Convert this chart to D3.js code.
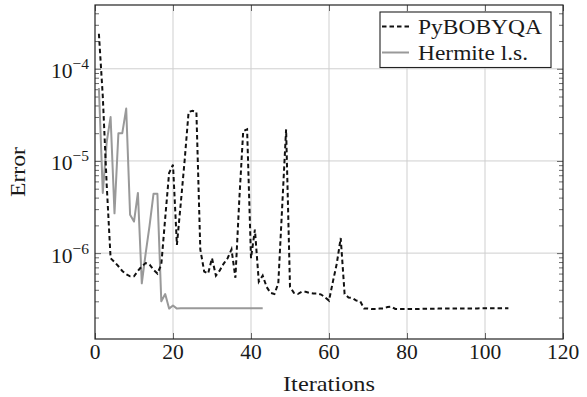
<!DOCTYPE html>
<html>
<head>
<meta charset="utf-8">
<script src="https://cdn.jsdelivr.net/npm/d3@7"></script>
<style>
  body { margin: 0; background: #fff; }
  text { font-family: "Liberation Serif", "Times New Roman", serif; fill: #1a1a1a; }
</style>
</head>
<body>
<div id="chart"></div>
<script>
// error per iteration (iteration = index + 1)
var bobyqaError = [
  2.4e-4, 5.0e-5, 5.5e-6, 8.8e-7, 8.0e-7, 7.2e-7, 6.4e-7, 5.9e-7, 5.6e-7, 5.6e-7,
  6.4e-7, 7.2e-7, 7.8e-7, 7.5e-7, 6.6e-7, 6.0e-7, 7.5e-7, 2.4e-6, 7.4e-6, 9.1e-6,
  1.23e-6, 3.5e-6, 1.03e-5, 3.4e-5, 3.5e-5, 3.4e-5, 1.1e-6, 6.3e-7, 6.0e-7, 8.8e-7,
  5.7e-7, 6.5e-7, 7.7e-7, 8.8e-7, 1.1e-6, 5.4e-7, 3.8e-6, 2.1e-5, 2.2e-5, 8.8e-7,
  1.8e-6, 4.9e-7, 5.7e-7, 4.3e-7, 3.7e-7, 3.6e-7, 4.7e-7, 3.2e-6, 2.2e-5, 4.3e-7,
  3.7e-7, 3.6e-7, 3.8e-7, 3.8e-7, 3.7e-7, 3.65e-7, 3.65e-7, 3.55e-7, 3.3e-7, 3.05e-7,
  4.9e-7, 7.7e-7, 1.46e-6, 3.6e-7, 3.3e-7, 3.25e-7, 3.05e-7, 3.0e-7, 2.5e-7, 2.5e-7,
  2.47e-7, 2.47e-7, 2.5e-7, 2.5e-7, 2.6e-7, 2.63e-7, 2.48e-7, 2.47e-7, 2.47e-7, 2.47e-7,
  2.48e-7, 2.48e-7, 2.48e-7, 2.49e-7, 2.49e-7, 2.49e-7, 2.49e-7, 2.5e-7, 2.5e-7, 2.5e-7,
  2.5e-7, 2.5e-7, 2.5e-7, 2.51e-7, 2.51e-7, 2.51e-7, 2.51e-7, 2.51e-7, 2.52e-7, 2.52e-7,
  2.52e-7, 2.52e-7, 2.52e-7, 2.52e-7, 2.53e-7, 2.53e-7
];
var hermiteError = [
  6.2e-5, 4.5e-6, 1.6e-5, 3.0e-5, 2.7e-6, 2.0e-5, 2.0e-5, 3.7e-5, 2.6e-6, 2.2e-6,
  4.5e-6, 4.7e-7, 1.0e-6, 2.0e-6, 4.4e-6, 4.4e-6, 3.0e-7, 3.6e-7, 2.5e-7, 2.7e-7,
  2.5e-7, 2.52e-7, 2.52e-7, 2.52e-7, 2.52e-7, 2.52e-7, 2.52e-7, 2.52e-7, 2.52e-7, 2.52e-7,
  2.52e-7, 2.52e-7, 2.52e-7, 2.52e-7, 2.52e-7, 2.52e-7, 2.52e-7, 2.52e-7, 2.52e-7, 2.52e-7,
  2.52e-7, 2.52e-7, 2.52e-7
];
var seriesNames = ["PyBOBYQA", "Hermite l.s."];
var xTicks = [0, 20, 40, 60, 80, 100, 120];
var yTicks = [1e-6, 1e-5, 1e-4];
var yTickExp = ["\u22126", "\u22125", "\u22124"];

// set the dimensions and margins of the graph
var margin = { top: 5, right: 24, bottom: 58, left: 95 },
  width = 587 - margin.left - margin.right,
  height = 397 - margin.top - margin.bottom;

var svg = d3.select("#chart")
  .append("svg")
  .attr("width", width + margin.left + margin.right)
  .attr("height", height + margin.top + margin.bottom);
var chart = svg.append("g")
  .attr("transform", "translate(" + margin.left + "," + margin.top + ")");

var x = d3.scaleLinear().domain([0, 120]).range([0, width]);
var y = d3.scaleLog().domain([1.17e-7, 4.92e-4]).range([height, 0]);

// grid
chart.append("g")
  .selectAll("line.gx")
  .data(xTicks.slice(1, -1))
  .enter().append("line")
  .attr("x1", function (d) { return x(d); })
  .attr("x2", function (d) { return x(d); })
  .attr("y1", 0).attr("y2", height)
  .attr("stroke", "#cfcfcf").attr("stroke-width", 1);
chart.append("g")
  .selectAll("line.gy")
  .data(yTicks)
  .enter().append("line")
  .attr("y1", function (d) { return y(d); })
  .attr("y2", function (d) { return y(d); })
  .attr("x1", 0).attr("x2", width)
  .attr("stroke", "#cfcfcf").attr("stroke-width", 1);

// minor ticks on the log axis, inward on both sides
var minor = y.ticks().filter(function (d) {
  return yTicks.indexOf(d) < 0 && d >= y.domain()[0] && d <= y.domain()[1];
});
[["left", 0], ["right", width]].forEach(function (s) {
  var ax = s[0] === "left" ? d3.axisLeft(y) : d3.axisRight(y);
  chart.append("g")
    .attr("transform", "translate(" + s[1] + ",0)")
    .call(ax.tickValues(minor).tickSize(-4).tickFormat(""))
    .call(function (g) { g.select(".domain").remove(); })
    .selectAll("line").attr("stroke", "#444").attr("stroke-width", 0.8);
  chart.append("g")
    .attr("transform", "translate(" + s[1] + ",0)")
    .call((s[0] === "left" ? d3.axisLeft(y) : d3.axisRight(y)).tickValues(yTicks).tickSize(-6).tickFormat(""))
    .call(function (g) { g.select(".domain").remove(); })
    .selectAll("line").attr("stroke", "#444").attr("stroke-width", 0.8);
});
[["bottom", height], ["top", 0]].forEach(function (s) {
  var ax = s[0] === "bottom" ? d3.axisBottom(x) : d3.axisTop(x);
  chart.append("g")
    .attr("transform", "translate(0," + s[1] + ")")
    .call(ax.tickValues(xTicks).tickSize(-6).tickFormat(""))
    .call(function (g) { g.select(".domain").remove(); })
    .selectAll("line").attr("stroke", "#444").attr("stroke-width", 0.8);
});

// tick labels
chart.append("g")
  .selectAll("text")
  .data(xTicks)
  .enter().append("text")
  .attr("x", function (d) { return x(d); })
  .attr("y", height + 20)
  .style("text-anchor", "middle")
  .style("font-size", "21.5px")
  .text(function (d) { return d; });

var yLab = chart.append("g")
  .selectAll("text")
  .data(yTicks)
  .enter().append("text")
  .attr("x", -6)
  .attr("y", function (d) { return y(d) + 9.5; })
  .style("text-anchor", "end")
  .style("font-size", "21.5px");
yLab.append("tspan").text("10");
yLab.append("tspan")
  .attr("dy", -9)
  .style("font-size", "15.5px")
  .text(function (d, i) { return yTickExp[i]; });

// the lines
var line = d3.line()
  .x(function (d, i) { return x(i + 1); })
  .y(function (d) { return y(d); });

chart.append("path")
  .datum(hermiteError)
  .attr("fill", "none")
  .attr("stroke", "#999999")
  .attr("stroke-width", 2)
  .attr("stroke-linejoin", "round")
  .attr("d", line);

chart.append("path")
  .datum(bobyqaError)
  .attr("fill", "none")
  .attr("stroke", "#111")
  .attr("stroke-width", 2)
  .attr("stroke-dasharray", "4.5,3")
  .attr("d", line);

// frame
chart.append("rect")
  .attr("width", width).attr("height", height)
  .attr("fill", "none").attr("stroke", "#222").attr("stroke-width", 1.2);

// legend
var legend = chart.append("g").attr("transform", "translate(" + (width - 183) + ",7)");
legend.append("rect")
  .attr("width", 171).attr("height", 55.5)
  .attr("fill", "#fff").attr("stroke", "#222").attr("stroke-width", 1.1);
var rows = legend.selectAll("g.row")
  .data(seriesNames)
  .enter().append("g")
  .attr("transform", function (d, i) { return "translate(0," + (i * 26) + ")"; });
rows.append("line")
  .attr("x1", 2).attr("x2", 29)
  .attr("y1", 14.5).attr("y2", 14.5)
  .attr("stroke", function (d, i) { return i === 0 ? "#111" : "#999999"; })
  .attr("stroke-width", 2)
  .attr("stroke-dasharray", function (d, i) { return i === 0 ? "4.5,3" : null; });
rows.append("text")
  .attr("x", 38)
  .attr("y", 21.5)
  .style("font-size", "21.5px")
  .attr("textLength", function (d, i) { return i === 0 ? 124 : 110; })
  .attr("lengthAdjust", "spacingAndGlyphs")
  .text(function (d) { return d; });

// axis titles
chart.append("text")
  .attr("x", width / 2)
  .attr("y", height + 52)
  .style("text-anchor", "middle")
  .style("font-size", "21.5px")
  .attr("textLength", 92)
  .attr("lengthAdjust", "spacingAndGlyphs")
  .text("Iterations");

chart.append("text")
  .attr("transform", "translate(" + (24.5 - margin.left) + "," + (height / 2) + ") rotate(-90)")
  .style("text-anchor", "middle")
  .style("font-size", "21.5px")
  .attr("textLength", 50)
  .attr("lengthAdjust", "spacingAndGlyphs")
  .text("Error");
</script>
</body>
</html>
